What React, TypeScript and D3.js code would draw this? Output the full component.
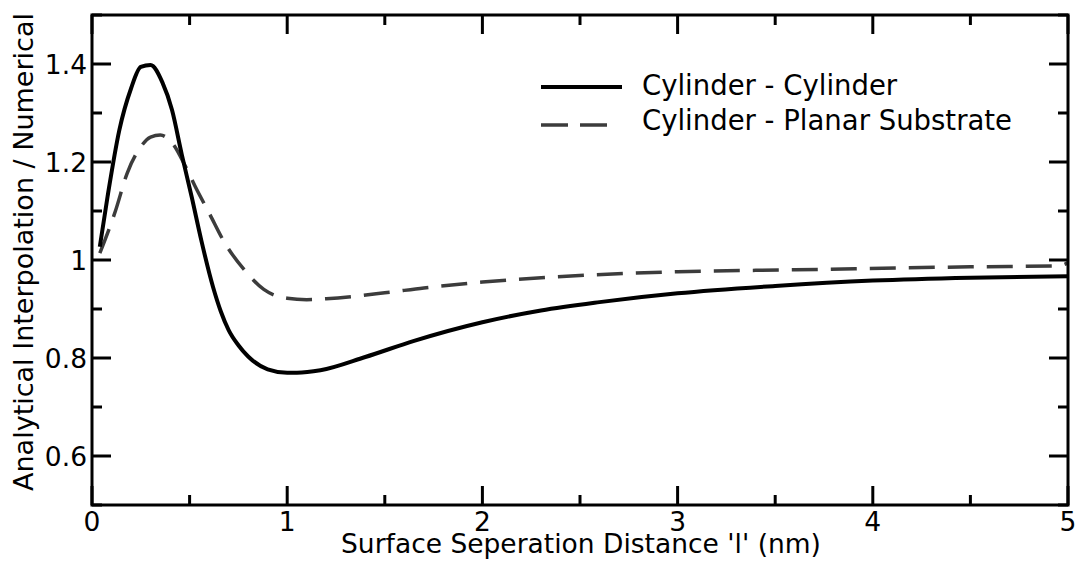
import React from "react";
import * as d3 from "d3";

const ccX = [0.04, 0.08, 0.14, 0.2, 0.25, 0.3, 0.36, 0.41, 0.46, 0.51, 0.56, 0.62, 0.66, 0.7, 0.75, 0.8, 0.9, 1.0, 1.05, 1.17, 1.4, 1.65, 2.0, 2.3, 2.6, 3.0, 3.5, 4.0, 4.5, 5.0];
const ccY = [1.027, 1.13, 1.265, 1.35, 1.394, 1.398, 1.363, 1.306, 1.215, 1.13, 1.04, 0.945, 0.895, 0.857, 0.826, 0.803, 0.777, 0.77, 0.77, 0.775, 0.802, 0.835, 0.873, 0.897, 0.914, 0.932, 0.947, 0.958, 0.964, 0.967];
const cpX = [0.04, 0.12, 0.18, 0.25, 0.3, 0.35, 0.41, 0.48, 0.53, 0.6, 0.68, 0.78, 0.88, 1.0, 1.1, 1.2, 1.5, 1.7, 2.0, 2.35, 3.0, 3.6, 4.5, 4.95, 5.0];
const cpY = [1.014, 1.1, 1.177, 1.231, 1.251, 1.255, 1.239, 1.19, 1.149, 1.096, 1.035, 0.98, 0.94, 0.922, 0.919, 0.921, 0.933, 0.943, 0.955, 0.965, 0.976, 0.98, 0.986, 0.988, 0.994];

const xMajor = [0, 1, 2, 3, 4, 5];
const xMinor = [0.5, 1.5, 2.5, 3.5, 4.5];
const yMajor = [0.6, 0.8, 1, 1.2, 1.4];
const yMinor = [0.5, 0.7, 0.9, 1.1, 1.3, 1.5];
const seriesNames = ["Cylinder - Cylinder", "Cylinder - Planar Substrate"];

const W = 1079, H = 569;
const L = 92, R = 1068, T = 15, B = 505;
const FONT = "'DejaVu Sans', Verdana, sans-serif";

export default function App() {
  const x = d3.scaleLinear().domain([0, 5]).range([L, R]);
  const y = d3.scaleLinear().domain([0.5, 1.5]).range([B, T]);
  const line = d3.line<[number, number]>().x(d => x(d[0])).y(d => y(d[1])).curve(d3.curveMonotoneX);
  const cc = ccX.map((v, i) => [v, ccY[i]] as [number, number]);
  const cp = cpX.map((v, i) => [v, cpY[i]] as [number, number]);
  const major = 19, minor = 10;
  return (
    <div style={{ position: "absolute", left: 0, top: 0 }}>
      <svg width={W} height={H} style={{ display: "block", background: "#fff" }}>
        <defs>
          <clipPath id="clip"><rect x={L} y={T} width={R - L} height={B - T} /></clipPath>
        </defs>
        <g clipPath="url(#clip)">
          <path d={line(cp) || ""} fill="none" stroke="#3c3c3c" strokeWidth={3.5} strokeDasharray="26,13" />
          <path d={line(cc) || ""} fill="none" stroke="#000" strokeWidth={4} />
        </g>
        <g stroke="#000" strokeWidth={3}>
          {xMajor.map(v => (
            <g key={"xm" + v}>
              <line x1={x(v)} x2={x(v)} y1={B} y2={B - major} />
              <line x1={x(v)} x2={x(v)} y1={T} y2={T + major} />
            </g>
          ))}
          {xMinor.map(v => (
            <g key={"xn" + v}>
              <line x1={x(v)} x2={x(v)} y1={B} y2={B - minor} />
              <line x1={x(v)} x2={x(v)} y1={T} y2={T + minor} />
            </g>
          ))}
          {yMajor.map(v => (
            <g key={"ym" + v}>
              <line x1={L} x2={L + major} y1={y(v)} y2={y(v)} />
              <line x1={R} x2={R - major} y1={y(v)} y2={y(v)} />
            </g>
          ))}
          {yMinor.map(v => (
            <g key={"yn" + v}>
              <line x1={L} x2={L + minor} y1={y(v)} y2={y(v)} />
              <line x1={R} x2={R - minor} y1={y(v)} y2={y(v)} />
            </g>
          ))}
          <rect x={L} y={T} width={R - L} height={B - T} fill="none" />
        </g>
        <g fontFamily={FONT} fontSize={26.5} fill="#000">
          {xMajor.map(v => (
            <text key={"xl" + v} x={x(v)} y={531} textAnchor="middle">{String(v)}</text>
          ))}
          {yMajor.map(v => (
            <text key={"yl" + v} x={87} y={y(v) + 10} textAnchor="end">{String(v)}</text>
          ))}
        </g>
        <text x={581} y={553} textAnchor="middle" fontFamily={FONT} fontSize={26.5}>Surface Seperation Distance 'l' (nm)</text>
        <text transform={`translate(33, 252) rotate(-90)`} textAnchor="middle" fontFamily={FONT} fontSize={27}>Analytical Interpolation / Numerical</text>
        <g>
          <line x1={541} x2={622} y1={87} y2={87} stroke="#000" strokeWidth={4} />
          <line x1={541} x2={618} y1={125} y2={125} stroke="#3c3c3c" strokeWidth={3.5} strokeDasharray="27,12" />
          <text x={642} y={95} fontFamily={FONT} fontSize={27.5}>{seriesNames[0]}</text>
          <text x={642} y={130} fontFamily={FONT} fontSize={27.5}>{seriesNames[1]}</text>
        </g>
      </svg>
    </div>
  );
}
